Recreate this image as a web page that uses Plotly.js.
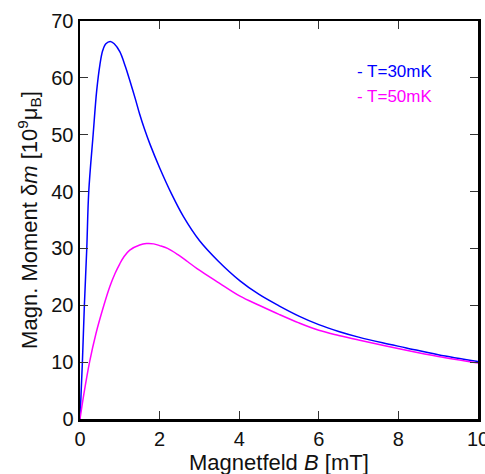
<!DOCTYPE html>
<html>
<head>
<meta charset="utf-8">
<script src="https://cdn.plot.ly/plotly-3.0.1.min.js"></script>
<style>html,body{margin:0;padding:0;background:#fff;}#chart{width:485px;height:474px;}</style>
</head>
<body>
<div id="chart"></div>
<script>
// Series data
const seriesNames = ["- T=30mK", "- T=50mK"];
const seriesColors = ["#0000ff", "#ff00ff"];

const b30 = [0, 0.06, 0.11, 0.17, 0.22, 0.33, 0.42, 0.5, 0.57, 0.65, 0.76, 0.86, 1.0, 1.14, 1.24, 1.39, 1.5, 1.62, 1.76, 2.0, 2.3, 2.6, 3.0, 3.47, 4.02, 4.5, 5.0, 5.5, 6.0, 6.5, 7.0, 7.6, 8.2, 9.0, 10.0];
const m30 = [0, 10, 20, 30, 40, 50, 57.8, 62.3, 64.8, 66, 66.4, 66, 64.6, 62, 59.8, 56.3, 53.6, 51.0, 48.3, 44.2, 39.6, 35.6, 31.4, 27.8, 24.3, 21.9, 19.9, 18.1, 16.6, 15.4, 14.4, 13.4, 12.5, 11.3, 10.1];

const b50 = [0, 0.1, 0.24, 0.4, 0.6, 0.75, 0.88, 1.0, 1.1, 1.25, 1.5, 1.67, 1.85, 2.0, 2.2, 2.46, 2.7, 2.95, 3.5, 4.02, 4.5, 5.0, 5.5, 6.0, 6.5, 7.0, 8.2, 9.0, 10.0];
const m50 = [0, 4.5, 10, 15, 20, 23.3, 25.6, 27.3, 28.5, 29.7, 30.6, 30.85, 30.8, 30.5, 30.0, 28.9, 27.7, 26.4, 23.9, 21.6, 20.0, 18.4, 16.9, 15.6, 14.7, 13.9, 12.1, 11.0, 9.85];

const xTicks = [0, 2, 4, 6, 8, 10];
const yTicks = [0, 10, 20, 30, 40, 50, 60, 70];
const xTitle = "Magnetfeld <i>B</i> [mT]";
const yTitle = "Magn. Moment δ<i>m</i> [10<sup>9</sup>μ<sub>B</sub>]";

const FONT = "Liberation Sans, Arial, sans-serif";

const traces = [
  {x: b30, y: m30, mode: "lines", line: {color: seriesColors[0], width: 1.5, shape: "spline", smoothing: 1}, name: seriesNames[0], showlegend: false},
  {x: b50, y: m50, mode: "lines", line: {color: seriesColors[1], width: 1.5, shape: "spline", smoothing: 1}, name: seriesNames[1], showlegend: false}
];

const axisCommon = {
  showgrid: false, zeroline: false, showline: true, linecolor: "#000", linewidth: 2.5,
  mirror: "ticks", ticks: "inside", ticklen: 8, tickwidth: 1, tickcolor: "#333",
  ticklabeloverflow: "allow",
  tickfont: {family: FONT, size: 20, color: "#111"}
};

const annotations = seriesNames.map((n, i) => ({
  xref: "paper", yref: "paper", x: (355 - 80) / 398, y: 1 - ((71 + 25 * i) - 21) / 398,
  xanchor: "left", yanchor: "middle", showarrow: false,
  text: n, font: {family: FONT, size: 17, color: seriesColors[i]}
}));
annotations.push({
  xref: "paper", yref: "paper", x: 0.5, y: (419 - 448) / 398,
  xanchor: "center", yanchor: "top", showarrow: false,
  text: xTitle, font: {family: FONT, size: 22, color: "#111"}
});

const layout = {
  width: 485, height: 474,
  margin: {l: 80, r: 7, t: 21, b: 55},
  paper_bgcolor: "#fff", plot_bgcolor: "#fff",
  font: {family: FONT, color: "#111"},
  xaxis: Object.assign({}, axisCommon, {
    range: [0, 10], tickvals: xTicks, ticktext: xTicks.map(String)
  }),
  yaxis: Object.assign({}, axisCommon, {
    range: [0, 70], tickvals: yTicks, ticktext: yTicks.map(String),
    title: {text: yTitle, font: {family: FONT, size: 22, color: "#111"}, standoff: 8}
  }),
  annotations: annotations
};

Plotly.newPlot("chart", traces, layout, {staticPlot: true, displayModeBar: false});
</script>
</body>
</html>
